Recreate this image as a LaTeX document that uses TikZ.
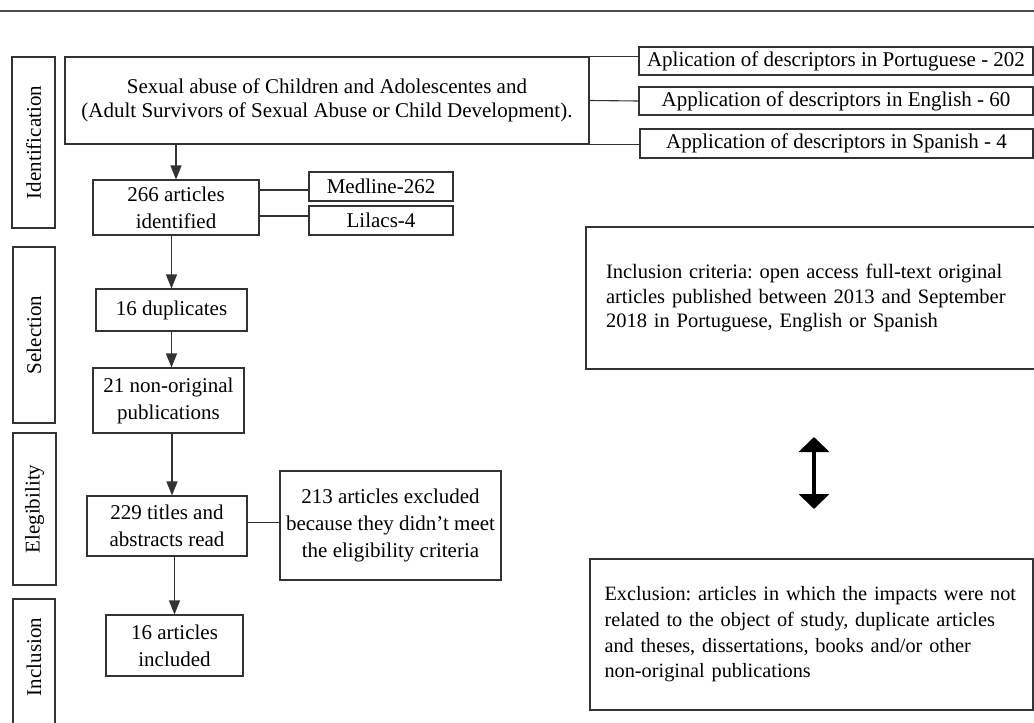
\documentclass[tikz,border=0pt]{standalone}
\usepackage{fontspec}
\setmainfont{Liberation Serif}
\usetikzlibrary{arrows.meta}
\begin{document}
\frenchspacing
\begin{tikzpicture}[x=1pt,y=-1pt,
  line/.style={draw=black!80,line width=1.1pt},
  box/.style={line, rectangle, inner sep=0pt, align=center, font={\fontsize{21}{27}\selectfont}},
  lab/.style={box, rotate=90},
  flow/.style={line, -{Triangle[length=14pt,width=11pt]}},
  leftbox/.style={box, align=left},
  ]
\useasboundingbox (0,0) rectangle (1034,723);
% top rule
\draw[draw=black!70, line width=1.3pt] (0,11) -- (1034,11);

% stage labels
\node[lab, minimum width=171, minimum height=43] (idlab) at (33.5,142.5) {Identification};
\node[lab, minimum width=176, minimum height=42] (sellab) at (34,335) {Selection};
\node[lab, minimum width=152, minimum height=43] (eliglab) at (34.5,509) {Elegibility};
\node[lab, minimum width=160, minimum height=42] (inclab) at (34,679) {};
\node[lab, draw=none] (inctxt) at (34,657) {Inclusion};

% identification
\node[box, minimum width=524, minimum height=87, font={\fontsize{21}{23.5}\selectfont}] (main) at (327,100.5)
  {Sexual abuse of Children and Adolescentes and\\(Adult Survivors of Sexual Abuse or Child Development).};
\node[box, minimum width=394, minimum height=28] (por) at (836,61) {Aplication of descriptors in Portuguese - 202};
\node[box, minimum width=394, minimum height=28] (eng) at (836,101) {Application of descriptors in English - 60};
\node[box, minimum width=393, minimum height=29] (spa) at (836.5,143.5) {Application of descriptors in Spanish - 4};
\draw[line] (main.north east) -- (por.west |- main.north east);
\draw[line] (main.east) -- (eng.west);
\draw[line] (main.south east) -- (spa.west |- main.south east);

\node[box, minimum width=166, minimum height=55] (id266) at (176,207.5) {266 articles\\identified};
\node[box, minimum width=144, minimum height=29] (medline) at (381,186.5) {Medline-262};
\node[box, minimum width=144, minimum height=29] (lilacs) at (381,220.5) {Lilacs-4};
\draw[line] ([yshift=-3.5pt]medline.west) -- ([yshift=-3.5pt]id266.east |- medline.west);
\draw[line] ([yshift=4.5pt]lilacs.west) -- ([yshift=4.5pt]id266.east |- lilacs.west);
\draw[flow] (id266.north |- main.south) -- (id266.north);

% selection
\node[box, minimum width=151, minimum height=42] (dup) at (171.5,310) {16 duplicates};
\node[box, minimum width=151, minimum height=65] (nonorig) at (168.5,400.5) {21 non-original\\publications};
\draw[flow] (dup.north |- id266.south) -- (dup.north);
\draw[flow] (dup.south) -- (dup.south |- nonorig.north);

% eligibility
\node[box, minimum width=160, minimum height=60] (t229) at (167,526) {229 titles and\\abstracts read};
\node[box, minimum width=221, minimum height=109] (ex213) at (390.5,525.5) {213 articles excluded\\because they didn’t meet\\the eligibility criteria};
\draw[flow] ([xshift=3.5pt]nonorig.south) -- ([xshift=3.5pt]nonorig.south |- t229.north);
\draw[line] ([yshift=3pt]t229.east) -- ([yshift=3pt]ex213.west -| t229.east) -- ([yshift=3pt]ex213.west);

% inclusion
\node[box, minimum width=137, minimum height=61] (inc16) at (174.5,645.5) {16 articles\\included};
\draw[flow] (inc16.north |- t229.south) -- (inc16.north);

% criteria
\node[leftbox, minimum width=454, minimum height=142, text width=414, font={\fontsize{20.5}{24.5}\selectfont}] (incrit) at (813,298)
  {Inclusion criteria: open access full-text original\\articles published between 2013 and September\\2018 in Portuguese, English or Spanish};
\node[leftbox, minimum width=443, minimum height=151, text width=414, font={\fontsize{20.3}{25.7}\selectfont}] (excrit) at (811.5,634.5)
  {Exclusion: articles in which the impacts were not\\related to the object of study, duplicate articles\\and theses, dissertations, books and/or other\\non-original publications};
\coordinate (dtop) at (814,437);
\coordinate (dbot) at (814,509);
\draw[line width=4pt, {Triangle[length=15pt,width=30pt]}-{Triangle[length=15pt,width=30pt]}] (dtop) -- (dbot);
\end{tikzpicture}
\end{document}
